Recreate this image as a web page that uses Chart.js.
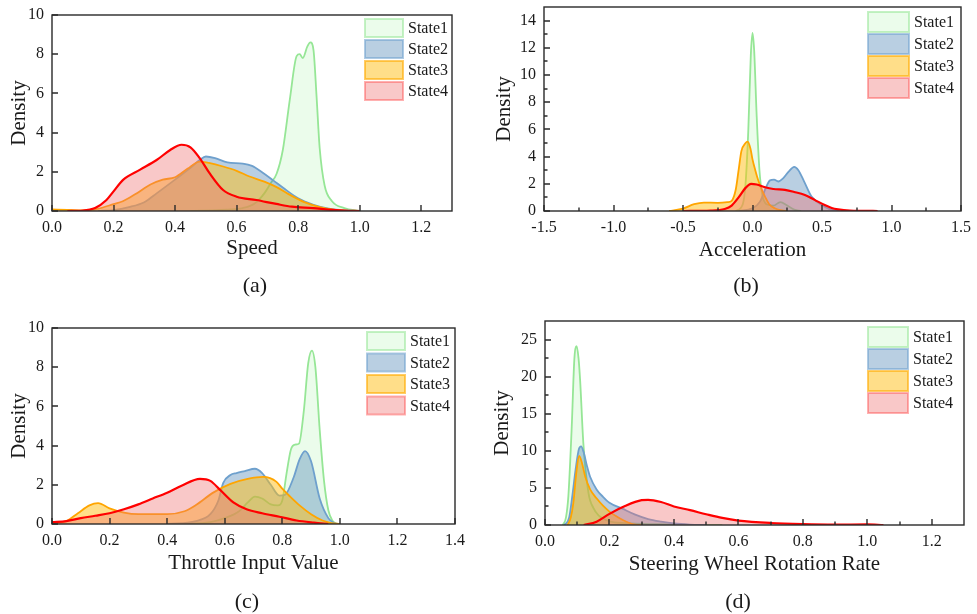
<!DOCTYPE html>
<html>
<head>
<meta charset="utf-8">
<script src="https://cdn.jsdelivr.net/npm/chart.js@4.4.1/dist/chart.umd.min.js"></script>
<style>
  body { margin: 0; background: #fff; width: 977px; height: 614px; overflow: hidden; position: relative; }
  .panel { position: absolute; }
  .sub { position: absolute; width: 60px; text-align: center; font: 22px 'Liberation Serif', 'Times New Roman', serif; color: #1a1a1a; line-height: 26px; }
</style>
</head>
<body>
<div class="panel" style="left:0;top:0"><canvas id="speed" width="488" height="305"></canvas></div>
<div class="panel" style="left:488px;top:0"><canvas id="accel" width="489" height="305"></canvas></div>
<div class="panel" style="left:0;top:305px"><canvas id="throttle" width="488" height="309"></canvas></div>
<div class="panel" style="left:488px;top:305px"><canvas id="steer" width="489" height="309"></canvas></div>
<div class="sub" style="left:225px;top:272px">(a)</div>
<div class="sub" style="left:716px;top:272px">(b)</div>
<div class="sub" style="left:217px;top:588px">(c)</div>
<div class="sub" style="left:708px;top:588px">(d)</div>
<script>
// series names
const states = ['State1', 'State2', 'State3', 'State4'];

// speed panel (a): [x, density]
const speedState1 = [[0.45,0],[0.55,0.06],[0.62,0.15],[0.66,0.4],[0.69,0.9],[0.71,1.4],[0.73,1.9],[0.75,3.1],[0.773,5.7],[0.795,7.9],[0.805,8.0],[0.815,7.8],[0.83,8.4],[0.84,8.6],[0.85,8.2],[0.86,5.8],[0.87,3.2],[0.886,1.3],[0.91,0.5],[0.95,0.15],[1.0,0]];
const speedState2 = [[0.15,0],[0.2,0.05],[0.25,0.2],[0.3,0.45],[0.34,0.9],[0.4,1.6],[0.45,2.2],[0.48,2.6],[0.5,2.78],[0.53,2.7],[0.57,2.48],[0.62,2.42],[0.65,2.3],[0.685,1.95],[0.72,1.55],[0.75,1.2],[0.8,0.65],[0.85,0.32],[0.9,0.12],[0.95,0.03],[1.0,0]];
const speedState3 = [[0,0.08],[0.05,0.06],[0.1,0.03],[0.15,0.12],[0.2,0.35],[0.23,0.5],[0.27,0.85],[0.32,1.35],[0.36,1.6],[0.4,1.72],[0.44,2.15],[0.48,2.52],[0.51,2.45],[0.556,2.27],[0.6,2.05],[0.642,1.76],[0.69,1.5],[0.73,1.22],[0.77,0.85],[0.82,0.45],[0.87,0.2],[0.92,0.06],[0.97,0]];
const speedState4 = [[0.05,0],[0.1,0.02],[0.14,0.15],[0.177,0.56],[0.2,1.0],[0.231,1.59],[0.285,2.1],[0.34,2.6],[0.383,3.1],[0.421,3.38],[0.45,3.25],[0.48,2.7],[0.512,1.93],[0.556,1.07],[0.6,0.73],[0.664,0.56],[0.729,0.36],[0.78,0.22],[0.85,0.15],[0.9,0.07],[0.95,0.02],[1.0,0]];

// acceleration panel (b)
const accelState1 = [[-0.12,0],[-0.07,0.5],[-0.05,2],[-0.03,6],[-0.012,11.5],[0.0,13.1],[0.012,11.8],[0.03,7],[0.05,3],[0.07,1.2],[0.1,0.5],[0.15,0.4],[0.2,0.65],[0.25,0.4],[0.3,0.1],[0.35,0]];
const accelState2 = [[-0.1,0],[0.0,0.2],[0.054,0.69],[0.1,1.8],[0.126,2.25],[0.155,2.3],[0.185,2.17],[0.22,2.4],[0.26,2.9],[0.3,3.25],[0.33,3.0],[0.37,2.2],[0.425,1.06],[0.5,0.44],[0.55,0.15],[0.62,0]];
const accelState3 = [[-0.6,0],[-0.5,0.18],[-0.42,0.5],[-0.35,0.62],[-0.25,0.6],[-0.18,0.65],[-0.15,0.75],[-0.12,1.6],[-0.1,3.0],[-0.08,4.4],[-0.05,5.0],[-0.035,5.1],[-0.015,4.6],[0.0,3.8],[0.02,3.0],[0.04,2.3],[0.07,1.5],[0.09,1.06],[0.12,0.5],[0.16,0.2],[0.2,0.06],[0.25,0]];
const accelState4 = [[-0.5,0],[-0.3,0.03],[-0.2,0.15],[-0.15,0.4],[-0.1,1.0],[-0.05,1.7],[-0.01,2.0],[0.03,1.95],[0.09,1.75],[0.15,1.62],[0.233,1.55],[0.3,1.4],[0.377,1.18],[0.45,0.8],[0.52,0.44],[0.57,0.22],[0.616,0.12],[0.7,0.03],[0.8,0.01],[0.9,0]];

// throttle panel (c)
const throttleState1 = [[0.45,0],[0.55,0.1],[0.6,0.3],[0.65,0.65],[0.68,1.1],[0.705,1.4],[0.73,1.3],[0.76,1.0],[0.785,0.95],[0.8,1.2],[0.815,2.6],[0.83,3.8],[0.844,4.05],[0.858,4.1],[0.875,5.8],[0.89,8.2],[0.903,8.85],[0.915,8.0],[0.93,4.8],[0.945,2.2],[0.96,0.7],[0.975,0.15],[0.99,0]];
const throttleState2 = [[0.4,0],[0.5,0.15],[0.55,0.5],[0.578,1.2],[0.595,2.1],[0.62,2.5],[0.641,2.6],[0.67,2.7],[0.705,2.82],[0.73,2.6],[0.76,2.0],[0.79,1.45],[0.81,1.5],[0.84,2.4],[0.86,3.3],[0.879,3.72],[0.9,3.2],[0.93,1.3],[0.96,0.3],[0.98,0.05],[1.0,0]];
const throttleState3 = [[0,0.05],[0.05,0.15],[0.09,0.55],[0.13,0.95],[0.16,1.06],[0.2,0.8],[0.25,0.58],[0.3,0.5],[0.4,0.5],[0.46,0.65],[0.5,0.97],[0.56,1.6],[0.62,2.05],[0.68,2.3],[0.734,2.4],[0.78,2.15],[0.8,1.8],[0.827,1.4],[0.86,0.95],[0.9,0.5],[0.94,0.18],[0.97,0.05],[1.0,0]];
const throttleState4 = [[0,0.1],[0.05,0.15],[0.1,0.3],[0.15,0.42],[0.2,0.55],[0.25,0.75],[0.3,1.0],[0.35,1.3],[0.4,1.6],[0.45,1.95],[0.514,2.3],[0.55,2.2],[0.584,1.74],[0.63,1.1],[0.676,0.75],[0.73,0.55],[0.79,0.37],[0.85,0.18],[0.91,0.07],[0.96,0]];

// steering wheel panel (d)
const steerState1 = [[0.055,0],[0.065,1],[0.0725,3.9],[0.083,13.3],[0.091,22.3],[0.098,24.1],[0.104,22.5],[0.109,19.5],[0.119,11],[0.135,4.3],[0.15,2.3],[0.166,1.3],[0.2,0.5],[0.25,0.25],[0.35,0.1],[0.45,0.03],[0.55,0]];
const steerState2 = [[0.06,0],[0.075,1],[0.085,4],[0.095,7.5],[0.105,10.2],[0.112,10.6],[0.12,9.8],[0.13,8],[0.14,6.5],[0.16,4.8],[0.18,3.8],[0.2,3.0],[0.24,2.2],[0.28,1.4],[0.32,0.8],[0.36,0.45],[0.4,0.2],[0.45,0.05],[0.5,0]];
const steerState3 = [[0.07,0],[0.08,1],[0.088,3],[0.097,7],[0.106,9.3],[0.115,8.3],[0.125,6.5],[0.14,4.8],[0.16,3.6],[0.18,2.6],[0.2,1.8],[0.22,1.2],[0.24,0.7],[0.26,0.3],[0.28,0.05],[0.3,0]];
const steerState4 = [[0.12,0],[0.16,0.45],[0.2,1.5],[0.25,2.6],[0.3,3.35],[0.32,3.4],[0.36,3.1],[0.4,2.5],[0.45,2.0],[0.5,1.45],[0.55,0.95],[0.6,0.6],[0.7,0.27],[0.8,0.12],[0.9,0.06],[1.0,0.08],[1.05,0]];

// tick labels
const speedXTicks = [0, 0.2, 0.4, 0.6, 0.8, 1.0, 1.2];
const speedYTicks = [0, 2, 4, 6, 8, 10];
const accelXTicks = [-1.5, -1.0, -0.5, 0, 0.5, 1.0, 1.5];
const accelXMinor = [-1.25, -0.75, -0.25, 0.25, 0.75, 1.25];
const accelYTicks = [0, 2, 4, 6, 8, 10, 12, 14];
const accelYMinor = [1, 3, 5, 7, 9, 11, 13];
const throttleXTicks = [0, 0.2, 0.4, 0.6, 0.8, 1.0, 1.2, 1.4];
const throttleYTicks = [0, 2, 4, 6, 8, 10];
const steerXTicks = [0, 0.2, 0.4, 0.6, 0.8, 1.0, 1.2];
const steerXMinor = [0.1, 0.3, 0.5, 0.7, 0.9, 1.1];
const steerYTicks = [0, 5, 10, 15, 20, 25];
const steerYMinor = [2.5, 7.5, 12.5, 17.5, 22.5];

const FONT = "'Liberation Serif', 'Times New Roman', serif";
Chart.defaults.font.family = FONT;
Chart.defaults.color = '#1a1a1a';

const lineColors = ['rgb(150,230,150)', 'rgb(110,160,205)', 'rgb(255,165,0)', 'rgb(255,0,0)'];
const fillColors = ['rgba(144,238,144,0.18)', 'rgba(70,130,180,0.38)', 'rgba(255,190,20,0.5)', 'rgba(240,110,110,0.38)'];
const boxBorders = ['rgba(150,230,150,0.55)', 'rgba(110,160,205,0.55)', 'rgba(255,170,0,0.6)', 'rgba(255,60,60,0.4)'];

// frame + inward tick marks
const frameTicks = {
  id: 'frameTicks',
  afterDatasetsDraw(chart, args, o) {
    const { ctx, chartArea: a, scales: { x, y } } = chart;
    ctx.save();
    ctx.strokeStyle = '#2a2a2a';
    ctx.lineWidth = 1.4;
    ctx.strokeRect(a.left, a.top, a.right - a.left, a.bottom - a.top);
    ctx.beginPath();
    x.ticks.forEach(t => { const p = Math.round(x.getPixelForValue(t.value)); ctx.moveTo(p, a.bottom); ctx.lineTo(p, a.bottom - 6); });
    (o.xMinor || []).forEach(v => { const p = Math.round(x.getPixelForValue(v)); ctx.moveTo(p, a.bottom); ctx.lineTo(p, a.bottom - 3.5); });
    y.ticks.forEach(t => { const p = Math.round(y.getPixelForValue(t.value)); ctx.moveTo(a.left, p); ctx.lineTo(a.left + 6, p); });
    (o.yMinor || []).forEach(v => { const p = Math.round(y.getPixelForValue(v)); ctx.moveTo(a.left, p); ctx.lineTo(a.left + 3.5, p); });
    ctx.stroke();
    ctx.restore();
  }
};

// legend drawn inside the plot, top right
const boxLegend = {
  id: 'boxLegend',
  afterDatasetsDraw(chart, args, o) {
    const { ctx, chartArea: a } = chart;
    ctx.save();
    ctx.font = '16px ' + FONT;
    ctx.textBaseline = 'middle';
    chart.data.datasets.forEach((ds, i) => {
      const bx = a.right - o.dx, by = a.top + o.dy + i * o.gap;
      ctx.fillStyle = '#fff';
      ctx.fillRect(bx, by, o.w, o.h);
      ctx.fillStyle = ds.backgroundColor;
      ctx.fillRect(bx, by, o.w, o.h);
      ctx.strokeStyle = boxBorders[i];
      ctx.lineWidth = 2;
      ctx.strokeRect(bx, by, o.w, o.h);
      ctx.fillStyle = '#1a1a1a';
      ctx.fillText(ds.label, bx + o.w + 5, by + o.h / 2 + 1);
    });
    ctx.restore();
  }
};

function makePanel(id, series, p) {
  new Chart(document.getElementById(id), {
    type: 'line',
    data: {
      datasets: series.map((pts, i) => ({
        label: states[i],
        data: pts.map(([x, y]) => ({ x, y })),
        borderColor: lineColors[i],
        backgroundColor: fillColors[i],
        borderWidth: i === 3 ? 2.2 : 1.8,
        fill: 'origin',
        pointRadius: 0,
        cubicInterpolationMode: 'monotone',
        order: 3 - i
      }))
    },
    plugins: [frameTicks, boxLegend],
    options: {
      responsive: false,
      animation: false,
      layout: { padding: p.pad },
      plugins: {
        legend: { display: false },
        tooltip: { enabled: false },
        frameTicks: { xMinor: p.xMinor, yMinor: p.yMinor },
        boxLegend: p.legend
      },
      scales: {
        x: {
          type: 'linear',
          min: p.xMin, max: p.xMax,
          afterBuildTicks: s => { s.ticks = p.xTicks.map(v => ({ value: v })); },
          afterFit: s => { s.height = p.xH; s.paddingLeft = 0; s.paddingRight = 0; },
          ticks: { callback: v => v.toFixed(1), font: { size: 16 }, padding: 7, maxRotation: 0, autoSkip: false },
          grid: { display: false, drawTicks: false },
          border: { display: false },
          title: { display: true, text: p.xTitle, font: { size: 21 }, padding: 0 }
        },
        y: {
          min: 0, max: p.yMax,
          afterBuildTicks: s => { s.ticks = p.yTicks.map(v => ({ value: v })); },
          afterFit: s => { s.width = p.yW; s.paddingTop = 0; s.paddingBottom = 0; },
          ticks: { font: { size: 16 }, padding: 8, autoSkip: false },
          grid: { display: false, drawTicks: false },
          border: { display: false },
          title: { display: true, text: 'Density', font: { size: 21 }, padding: 0 }
        }
      }
    }
  });
}

makePanel('speed', [speedState1, speedState2, speedState3, speedState4], {
  xTitle: 'Speed', xMin: 0, xMax: 1.3, xTicks: speedXTicks, yMax: 10, yTicks: speedYTicks,
  pad: { left: 7, right: 36, top: 15, bottom: 44 }, yW: 45, xH: 50,
  legend: { dx: 87, dy: 4, w: 38, h: 18, gap: 21 }
});
makePanel('accel', [accelState1, accelState2, accelState3, accelState4], {
  xTitle: 'Acceleration', xMin: -1.5, xMax: 1.5, xTicks: accelXTicks, xMinor: accelXMinor,
  yMax: 15, yTicks: accelYTicks, yMinor: accelYMinor,
  pad: { left: 4, right: 16, top: 7, bottom: 42 }, yW: 52, xH: 52,
  legend: { dx: 93, dy: 5, w: 41, h: 20, gap: 22 }
});
makePanel('throttle', [throttleState1, throttleState2, throttleState3, throttleState4], {
  xTitle: 'Throttle Input Value', xMin: 0, xMax: 1.4, xTicks: throttleXTicks, yMax: 10, yTicks: throttleYTicks,
  pad: { left: 7, right: 33, top: 23, bottom: 38 }, yW: 45, xH: 52,
  legend: { dx: 88, dy: 4, w: 38, h: 18, gap: 21.5 }
});
makePanel('steer', [steerState1, steerState2, steerState3, steerState4], {
  xTitle: 'Steering Wheel Rotation Rate', xMin: 0, xMax: 1.3, xTicks: steerXTicks, xMinor: steerXMinor,
  yMax: 27.5, yTicks: steerYTicks, yMinor: steerYMinor,
  pad: { left: 2, right: 13, top: 16, bottom: 37 }, yW: 55, xH: 52,
  legend: { dx: 96, dy: 6, w: 40, h: 20, gap: 22 }
});
</script>
</body>
</html>
